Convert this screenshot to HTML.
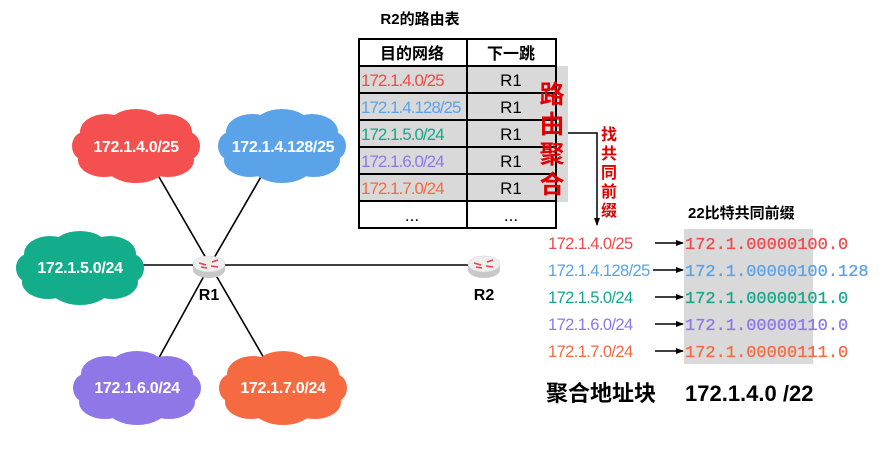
<!DOCTYPE html>
<html><head><meta charset="utf-8"><style>
body{margin:0;background:#fff}
svg{display:block}
.s{font-family:"Liberation Sans","Noto Sans CJK SC",sans-serif}
</style></head><body>
<svg width="883" height="449" viewBox="0 0 883 449" xmlns="http://www.w3.org/2000/svg">
<defs>
<g id="cloud">
<ellipse cx="0" cy="0" rx="54" ry="24"/>
<ellipse cx="-30" cy="-14" rx="26" ry="18"/>
<ellipse cx="0" cy="-20" rx="28" ry="17"/>
<ellipse cx="30" cy="-14" rx="26" ry="18"/>
<ellipse cx="-32" cy="14" rx="26" ry="17"/>
<ellipse cx="0" cy="20" rx="30" ry="17"/>
<ellipse cx="32" cy="14" rx="26" ry="17"/>
<ellipse cx="-52" cy="0" rx="12" ry="14"/>
<ellipse cx="52" cy="0" rx="12" ry="14"/>
</g>
<g id="router">
<ellipse cx="0" cy="5" rx="16" ry="8" fill="#c8c8c8"/>
<rect x="-16" y="-1" width="32" height="6" fill="#c8c8c8"/>
<ellipse cx="0" cy="-1" rx="16" ry="8" fill="#eeeeee" stroke="#d0d0d0" stroke-width="0.5"/>
<path d="M-10,-2 L-3,0 M3,-3 L9,-5 M-8,2 L-2,3 M2,1 L9,2" stroke="#e84050" stroke-width="1.5"/>
</g>
<marker id="ar" markerWidth="8" markerHeight="8" refX="7" refY="4" orient="auto" markerUnits="userSpaceOnUse"><path d="M0,1 L8,4 L0,7z" fill="#000"/></marker>
</defs>

<g stroke="#000" stroke-width="1.6">
<line x1="210" y1="265" x2="155" y2="170"/>
<line x1="210" y1="265" x2="262" y2="175"/>
<line x1="210" y1="265" x2="140" y2="265"/>
<line x1="210" y1="265" x2="155" y2="365"/>
<line x1="210" y1="265" x2="268" y2="365"/>
<line x1="210" y1="265" x2="484" y2="265"/>
</g>

<use href="#cloud" x="136" y="146" fill="#f55050"/>
<use href="#cloud" x="282" y="146" fill="#5aa3e8"/>
<use href="#cloud" x="80" y="268" fill="#13ad8c"/>
<use href="#cloud" x="137" y="388" fill="#8f77e8"/>
<use href="#cloud" x="283" y="388" fill="#f56a40"/>
<g class="s" fill="#fff" font-weight="bold" font-size="16" text-anchor="middle" letter-spacing="-0.3">
<text x="136" y="152">172.1.4.0/25</text>
<text x="283" y="152">172.1.4.128/25</text>
<text x="80" y="273">172.1.5.0/24</text>
<text x="137" y="393">172.1.6.0/24</text>
<text x="283" y="393">172.1.7.0/24</text>
</g>

<use href="#router" x="209" y="265"/>
<use href="#router" x="484" y="265"/>
<text class="s" x="209" y="300" font-size="16" font-weight="bold" text-anchor="middle">R1</text>
<text class="s" x="484" y="300" font-size="16" font-weight="bold" text-anchor="middle">R2</text>

<text class="s" x="420" y="24" font-size="15" font-weight="bold" text-anchor="middle">R2的路由表</text>
<rect x="535" y="66" width="33" height="136" fill="#d9d9d9"/>
<rect x="359" y="66" width="197" height="135" fill="#d9d9d9"/>
<g stroke="#000" stroke-width="2" fill="none">
<rect x="359" y="39" width="197" height="189"/>
<line x1="467" y1="39" x2="467" y2="228"/>
<line x1="359" y1="66" x2="556" y2="66"/>
<line x1="359" y1="93" x2="556" y2="93"/>
<line x1="359" y1="120" x2="556" y2="120"/>
<line x1="359" y1="147" x2="556" y2="147"/>
<line x1="359" y1="174" x2="556" y2="174"/>
<line x1="359" y1="201" x2="556" y2="201"/>
</g>
<g class="s" font-size="16" font-weight="bold" text-anchor="middle">
<text x="412" y="59">目的网络</text>
<text x="511" y="59">下一跳</text>
</g>
<g class="s" font-size="17" text-anchor="middle">
<text x="511" y="86">R1</text><text x="511" y="113">R1</text><text x="511" y="140">R1</text><text x="511" y="167">R1</text><text x="511" y="194">R1</text>
<text x="412" y="221">...</text><text x="511" y="221">...</text>
</g>
<g class="s" font-size="17" letter-spacing="-1">
<text x="361" y="86" fill="#f04a4a">172.1.4.0/25</text>
<text x="361" y="113" fill="#5aa3e8">172.1.4.128/25</text>
<text x="361" y="140" fill="#13a88a">172.1.5.0/24</text>
<text x="361" y="167" fill="#8f77e8">172.1.6.0/24</text>
<text x="361" y="194" fill="#f56a40">172.1.7.0/24</text>
</g>
<g class="s" fill="#e00000" font-size="25" font-weight="bold" text-anchor="middle">
<text x="552" y="103">路</text><text x="552" y="133">由</text><text x="552" y="163">聚</text><text x="552" y="193">合</text>
</g>
<polyline points="568,133 597,133 597,225" fill="none" stroke="#000" stroke-width="1.5" marker-end="url(#ar)"/>
<g class="s" fill="#e00000" font-size="16" font-weight="bold" text-anchor="middle">
<text x="609" y="140">找</text><text x="609" y="159">共</text><text x="609" y="178">同</text><text x="609" y="197">前</text><text x="609" y="216">缀</text>
</g>

<text class="s" x="688" y="218" font-size="15" font-weight="bold">22比特共同前缀</text>
<rect x="684" y="229" width="129" height="135" fill="#d9d9d9"/>
<g class="s" font-size="16.5" letter-spacing="-0.6">
<text x="548" y="249" fill="#f04a4a">172.1.4.0/25</text>
<text x="548" y="276" fill="#5aa3e8">172.1.4.128/25</text>
<text x="548" y="303" fill="#13a88a">172.1.5.0/24</text>
<text x="548" y="330" fill="#8f77e8">172.1.6.0/24</text>
<text x="548" y="357" fill="#f56a40">172.1.7.0/24</text>
</g>
<g stroke="#000" stroke-width="1.5">
<line x1="655" y1="243" x2="683" y2="243" marker-end="url(#ar)"/>
<line x1="653" y1="270" x2="683" y2="270" marker-end="url(#ar)"/>
<line x1="655" y1="297" x2="683" y2="297" marker-end="url(#ar)"/>
<line x1="655" y1="324" x2="683" y2="324" marker-end="url(#ar)"/>
<line x1="655" y1="351" x2="683" y2="351" marker-end="url(#ar)"/>
</g>
<g font-family="Liberation Mono, monospace" font-size="17" stroke-width="0.3">
<text x="685" y="249" fill="#f04a4a" stroke="#f04a4a">172.1.00000100.0</text>
<text x="685" y="276" fill="#5aa3e8" stroke="#5aa3e8">172.1.00000100.128</text>
<text x="685" y="303" fill="#13a88a" stroke="#13a88a">172.1.00000101.0</text>
<text x="685" y="330" fill="#8f77e8" stroke="#8f77e8">172.1.00000110.0</text>
<text x="685" y="357" fill="#f56a40" stroke="#f56a40">172.1.00000111.0</text>
</g>
<text class="s" x="546" y="401" font-size="22" font-weight="bold">聚合地址块</text>
<text class="s" x="685" y="401" font-size="22" font-weight="bold">172.1.4.0 /22</text>
</svg>
</body></html>
